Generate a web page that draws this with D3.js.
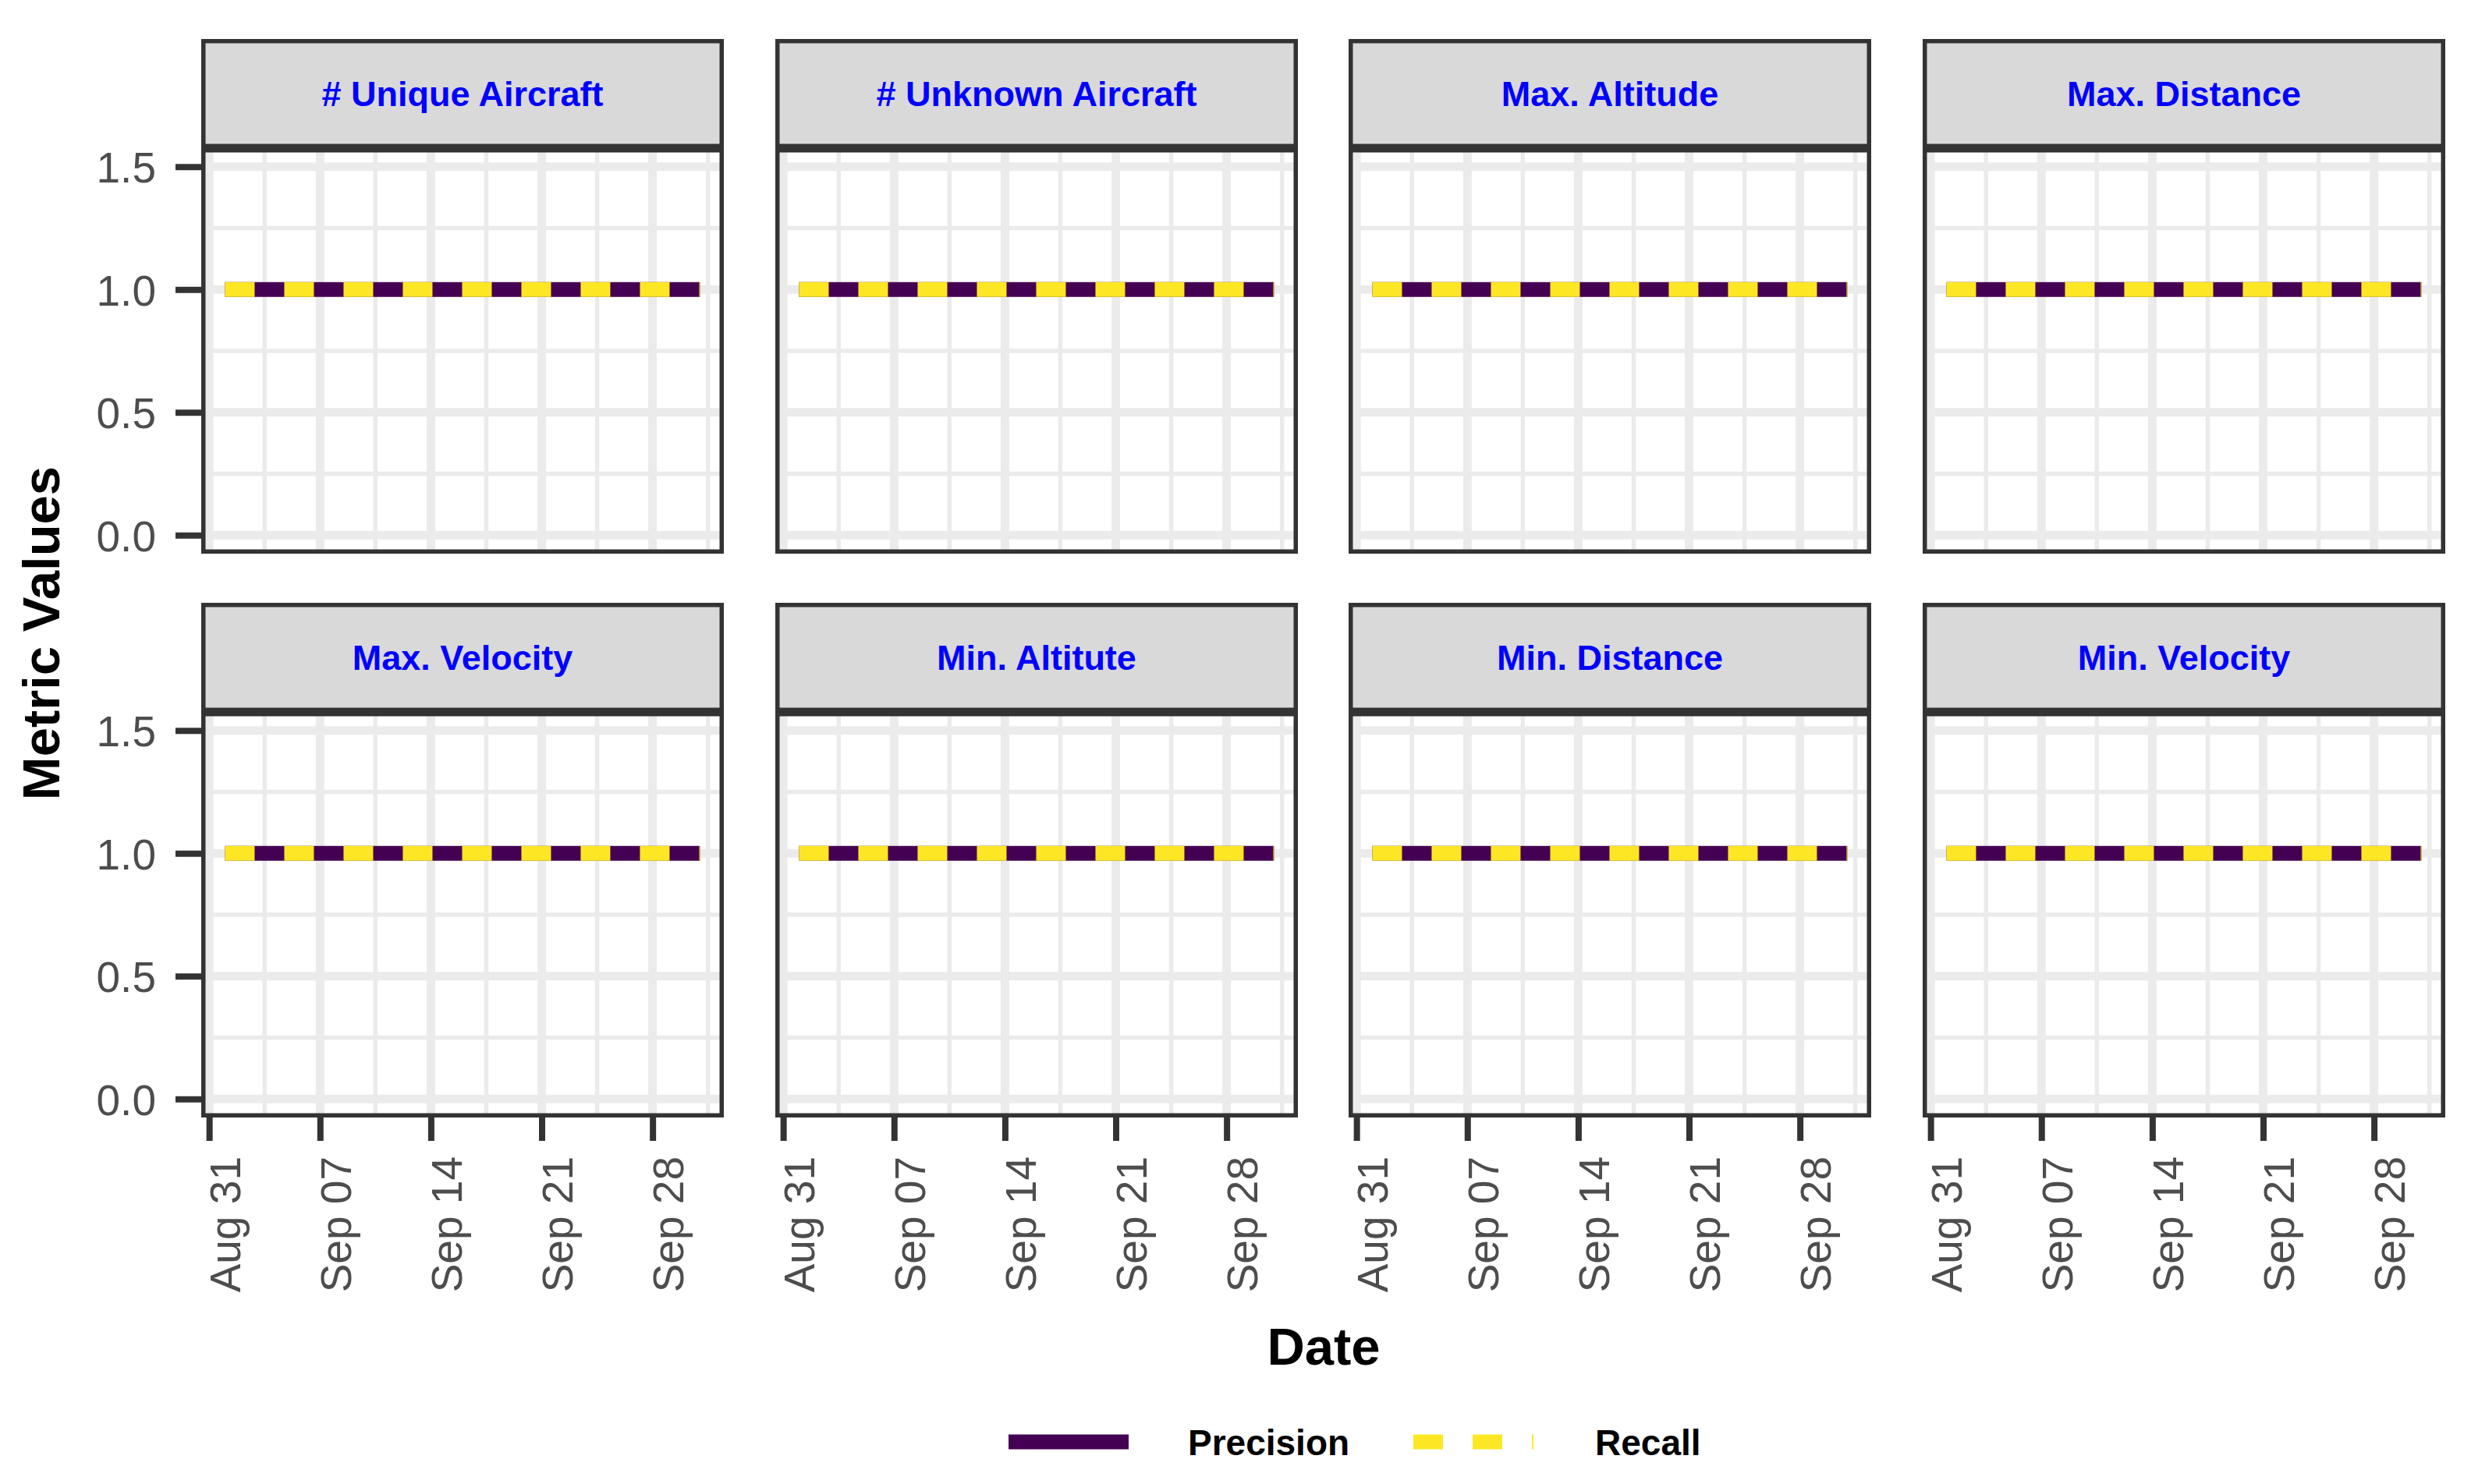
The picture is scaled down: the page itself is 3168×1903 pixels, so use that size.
<!DOCTYPE html>
<html>
<head>
<meta charset="utf-8">
<script src="https://cdn.jsdelivr.net/npm/d3@7"></script>
<style>
  body { margin: 0; background: white; }
</style>
</head>
<body>
<div id="chart"></div>
<script>
// panels, in facet order
var metrics = ["# Unique Aircraft", "# Unknown Aircraft", "Max. Altitude", "Max. Distance",
               "Max. Velocity", "Min. Altitute", "Min. Distance", "Min. Velocity"];

var dates = ["2020-09-01", "2020-09-02", "2020-09-03", "2020-09-04", "2020-09-05", "2020-09-06",
             "2020-09-07", "2020-09-08", "2020-09-09", "2020-09-10", "2020-09-11", "2020-09-12",
             "2020-09-13", "2020-09-14", "2020-09-15", "2020-09-16", "2020-09-17", "2020-09-18",
             "2020-09-19", "2020-09-20", "2020-09-21", "2020-09-22", "2020-09-23", "2020-09-24",
             "2020-09-25", "2020-09-26", "2020-09-27", "2020-09-28", "2020-09-29", "2020-09-30",
             "2020-10-01"];

// same values in every panel
var precision = [1, 1, 1, 1, 1, 1, 1, 1, 1, 1, 1, 1, 1, 1, 1, 1, 1, 1, 1, 1, 1, 1, 1, 1, 1, 1, 1, 1, 1, 1, 1];
var recall    = [1, 1, 1, 1, 1, 1, 1, 1, 1, 1, 1, 1, 1, 1, 1, 1, 1, 1, 1, 1, 1, 1, 1, 1, 1, 1, 1, 1, 1, 1, 1];

var xTicks = ["2020-08-31", "2020-09-07", "2020-09-14", "2020-09-21", "2020-09-28"];
var yTicks = [0, 0.5, 1, 1.5];
var yLimits = [0, 1.5];

var seriesNames = ["Precision", "Recall"];
var seriesColors = {"Precision": "#440154", "Recall": "#FDE725"};

var W = 3168, H = 1903;
var colX = [258, 994, 1729, 2465];
var rowY = [50, 773];
var pw = 670, ph = 520, stripH = 140;
var font = "'Liberation Sans', Arial, Helvetica, sans-serif";

var parse = d3.timeParse("%Y-%m-%d");
var dayData = dates.map(function(d, i) {
  return {date: parse(d), precision: precision[i], recall: recall[i]};
});
var tickDates = xTicks.map(parse);

// ggplot style 5% expansion
var ext = d3.extent(dayData, function(d) { return d.date; });
var pad = (ext[1] - ext[0]) * 0.05;
var xScale = d3.scaleTime()
  .domain([new Date(+ext[0] - pad), new Date(+ext[1] + pad)])
  .range([0, pw]);

var ypad = (yLimits[1] - yLimits[0]) * 0.05;
var yScale = d3.scaleLinear()
  .domain([yLimits[0] - ypad, yLimits[1] + ypad])
  .range([ph, 0]);

// minor grid halfway between major breaks
var halfWeek = 3.5 * 24 * 3600 * 1000;
var xMinor = [];
tickDates.forEach(function(t) {
  [+t - halfWeek, +t + halfWeek].forEach(function(v) {
    var d = new Date(v);
    if (d >= xScale.domain()[0] && d <= xScale.domain()[1] && !xMinor.some(function(m) { return +m == v; })) xMinor.push(d);
  });
});
var yMinor = [];
yTicks.forEach(function(t) {
  [t - 0.25, t + 0.25].forEach(function(v) {
    if (v >= yScale.domain()[0] && v <= yScale.domain()[1] && yMinor.indexOf(v) < 0) yMinor.push(v);
  });
});

var svg = d3.select("#chart").append("svg")
  .attr("width", W)
  .attr("height", H)
  .style("background", "white");

var lineP = d3.line().x(function(d) { return xScale(d.date); }).y(function(d) { return yScale(d.precision); });
var lineR = d3.line().x(function(d) { return xScale(d.date); }).y(function(d) { return yScale(d.recall); });

metrics.forEach(function(m, i) {
  var col = i % 4, row = Math.floor(i / 4);
  var g = svg.append("g").attr("transform", "translate(" + colX[col] + "," + rowY[row] + ")");

  // strip
  g.append("rect")
    .attr("x", 2.75).attr("y", 2.75)
    .attr("width", pw - 5.5).attr("height", stripH - 5.5)
    .attr("fill", "#D9D9D9")
    .attr("stroke", "#333333")
    .attr("stroke-width", 5.5);
  g.append("text")
    .attr("x", pw / 2)
    .attr("y", stripH / 2 + 16)
    .attr("text-anchor", "middle")
    .attr("font-family", font)
    .attr("font-weight", "bold")
    .attr("font-size", "45px")
    .attr("fill", "#0000FF")
    .text(m);

  var p = g.append("g").attr("transform", "translate(0," + stripH + ")");
  p.append("rect").attr("width", pw).attr("height", ph).attr("fill", "white");

  p.selectAll(".xminor").data(xMinor).enter().append("line")
    .attr("x1", function(d) { return xScale(d); }).attr("x2", function(d) { return xScale(d); })
    .attr("y1", 0).attr("y2", ph)
    .attr("stroke", "#EBEBEB").attr("stroke-width", 5.5);
  p.selectAll(".yminor").data(yMinor).enter().append("line")
    .attr("y1", function(d) { return yScale(d); }).attr("y2", function(d) { return yScale(d); })
    .attr("x1", 0).attr("x2", pw)
    .attr("stroke", "#EBEBEB").attr("stroke-width", 5.5);
  p.selectAll(".xmajor").data(tickDates).enter().append("line")
    .attr("x1", function(d) { return xScale(d); }).attr("x2", function(d) { return xScale(d); })
    .attr("y1", 0).attr("y2", ph)
    .attr("stroke", "#EBEBEB").attr("stroke-width", 11);
  p.selectAll(".ymajor").data(yTicks).enter().append("line")
    .attr("y1", function(d) { return yScale(d); }).attr("y2", function(d) { return yScale(d); })
    .attr("x1", 0).attr("x2", pw)
    .attr("stroke", "#EBEBEB").attr("stroke-width", 11);

  p.append("path")
    .attr("d", lineP(dayData))
    .attr("fill", "none")
    .attr("stroke", seriesColors["Precision"])
    .attr("stroke-width", 19);
  p.append("path")
    .attr("d", lineR(dayData))
    .attr("fill", "none")
    .attr("stroke", seriesColors["Recall"])
    .attr("stroke-width", 19)
    .attr("stroke-dasharray", "38,38");

  p.append("rect")
    .attr("x", 2.75).attr("y", 2.75)
    .attr("width", pw - 5.5).attr("height", ph - 5.5)
    .attr("fill", "none")
    .attr("stroke", "#333333")
    .attr("stroke-width", 5.5);

  if (col == 0) {
    var ya = p.append("g")
      .call(d3.axisLeft(yScale).tickValues(yTicks).tickFormat(d3.format(".1f")).tickSize(33).tickPadding(25));
    ya.select(".domain").remove();
    ya.selectAll("line").attr("stroke", "#333333").attr("stroke-width", 8);
    ya.selectAll("text")
      .attr("font-family", font)
      .attr("font-size", "55px")
      .attr("fill", "#4D4D4D")
      .attr("dy", "0.36em");
  }

  if (row == 1) {
    var xa = p.append("g")
      .attr("transform", "translate(0," + ph + ")")
      .call(d3.axisBottom(xScale).tickValues(tickDates).tickFormat(d3.timeFormat("%b %d")).tickSize(30));
    xa.select(".domain").remove();
    xa.selectAll("line").attr("stroke", "#333333").attr("stroke-width", 8);
    xa.selectAll("text")
      .attr("font-family", font)
      .attr("font-size", "55px")
      .attr("fill", "#4D4D4D")
      .attr("text-anchor", "end")
      .attr("transform", "rotate(-90)")
      .attr("x", -50)
      .attr("y", 39)
      .attr("dy", null);
  }
});

// axis titles
svg.append("text")
  .attr("x", 1697)
  .attr("y", 1750)
  .attr("text-anchor", "middle")
  .attr("font-family", font)
  .attr("font-weight", "bold")
  .attr("font-size", "67px")
  .attr("fill", "black")
  .text("Date");

svg.append("text")
  .attr("transform", "translate(76,812) rotate(-90)")
  .attr("text-anchor", "middle")
  .attr("font-family", font)
  .attr("font-weight", "bold")
  .attr("font-size", "67px")
  .attr("fill", "black")
  .text("Metric Values");

// legend
var legendKeyX = [1293, 1812];
var legendTextX = [1523, 2045];
var legendY = 1849;
seriesNames.forEach(function(s, i) {
  svg.append("line")
    .attr("x1", legendKeyX[i]).attr("x2", legendKeyX[i] + 154)
    .attr("y1", legendY).attr("y2", legendY)
    .attr("stroke", seriesColors[s])
    .attr("stroke-width", 19)
    .attr("stroke-dasharray", s == "Recall" ? "38,38" : null);
  svg.append("text")
    .attr("x", legendTextX[i])
    .attr("y", legendY + 17)
    .attr("font-family", font)
    .attr("font-weight", "bold")
    .attr("font-size", "46px")
    .attr("fill", "black")
    .text(s);
});
</script>
</body>
</html>
